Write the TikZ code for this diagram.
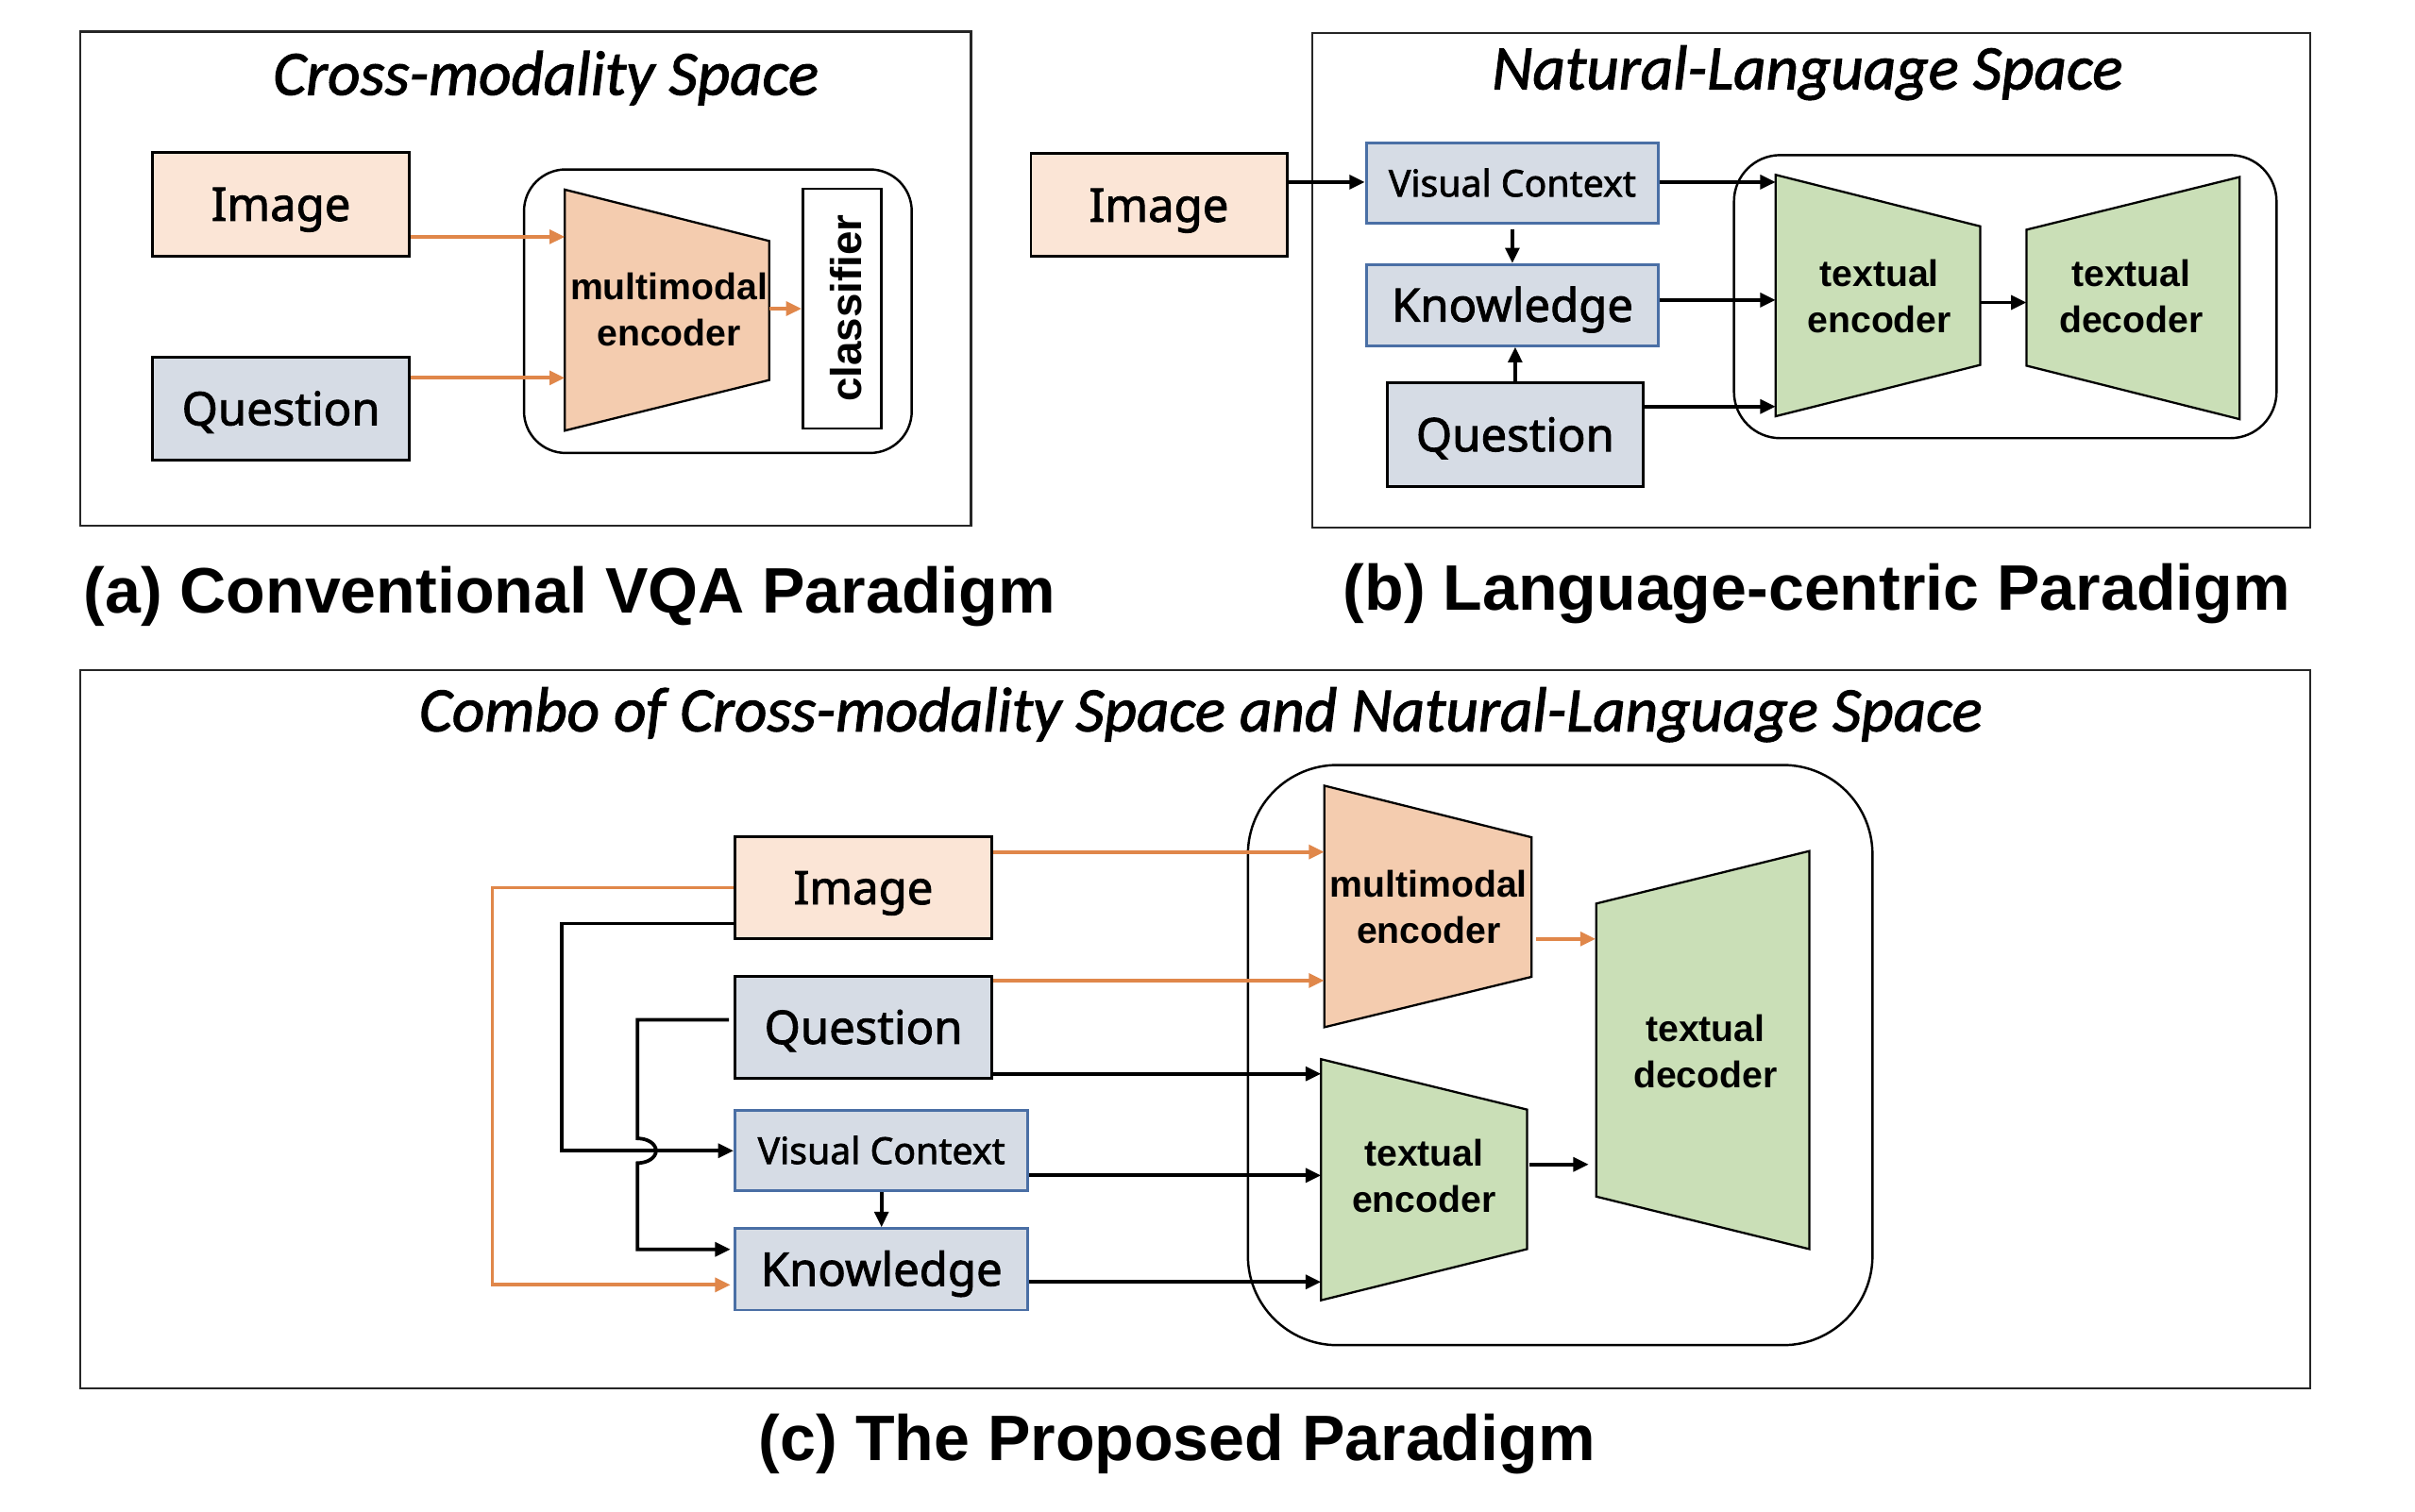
\documentclass[tikz,border=0pt]{standalone}
\usepackage{fontspec}
\setmainfont{Liberation Sans}
\newfontfamily\boxfont[FakeBold=1.8]{Noto Sans}
\newfontfamily\spacefont[FakeBold=1.6]{Carlito}
\usetikzlibrary{arrows.meta,calc}

\definecolor{peach}{HTML}{FBE5D6}
\definecolor{bgray}{HTML}{D6DCE5}
\definecolor{bblue}{HTML}{4A6FA5}
\definecolor{mmfill}{HTML}{F4CCAF}
\definecolor{gfill}{HTML}{CADFB7}
\definecolor{oline}{HTML}{E0874A}

\tikzset{
  panel/.style={draw=black!85, line width=1.4pt},
  roundbox/.style={draw=black, line width=1.5pt},
  inbox/.style={draw=black, line width=1.8pt, inner sep=0pt,
    font=\boxfont\fontsize{30}{36}\selectfont, text height=21.4pt, text depth=0pt},
  imgbox/.style={inbox, fill=peach},
  qbox/.style={inbox, fill=bgray},
  kbox/.style={inbox, fill=bgray, draw=bblue},
  vcbox/.style={kbox, font=\boxfont\fontsize{24}{29}\selectfont, text height=17.1pt},
  mmshape/.style={draw=black, line width=1.4pt, fill=mmfill},
  gshape/.style={draw=black, line width=1.4pt, fill=gfill},
  lbl/.style={font=\bfseries\fontsize{24}{30}\selectfont, align=center, inner sep=0pt},
  clsbox/.style={draw=black, line width=1.6pt, fill=white, inner sep=0pt},
  clslbl/.style={font=\bfseries\fontsize{28}{34}\selectfont, inner sep=0pt, rotate=90},
  spacetitle/.style={font=\spacefont\itshape\fontsize{41}{49}\selectfont, inner sep=0pt, anchor=base},
  caption/.style={font=\bfseries\fontsize{41.7}{50}\selectfont, inner sep=0pt, anchor=base west},
  barr/.style={draw=black, line width=2.3pt, -{Triangle[length=10pt,width=9pt]}},
  oarr/.style={barr, draw=oline},
}

\begin{document}
\begin{tikzpicture}[x=1pt, y=-1pt]
\fill[white] (0,0) rectangle (1566,980.7);
\useasboundingbox (0,0) rectangle (1566,980.7);

%%%%%%%%%%%%%%%% (a) %%%%%%%%%%%%%%%%
\draw[panel] (52,20.5) rectangle (629.7,341.1);
\node[spacetitle] (tA) at (354,61.5) {Cross-modality Space};
\node[imgbox, minimum width=166.4pt, minimum height=67.3pt] (imgA) at (182.2,132.5) {Image};
\node[qbox, minimum width=166.4pt, minimum height=66.6pt] (qA) at (182.2,265.1) {Question};
\draw[roundbox, rounded corners=27pt] (339.8,109.9) rectangle (591.2,293.8);
\draw[mmshape] (366.3,123) -- (498.8,156.3) -- (498.8,246.5) -- (366.3,279.3) -- cycle;
\node[lbl] (mmA) at (433.8,201) {multimodal\\encoder};
\node[clsbox, minimum width=51pt, minimum height=155.5pt] (clsA) at (546.1,200.2) {};
\node[clslbl] (clsT) at (548.9,200) {classifier};
\coordinate (encAin1) at (366.3,153.6);
\coordinate (encAin2) at (366.3,245.1);
\coordinate (encAout) at (498.8,200.2);
\draw[oarr] (imgA.east |- encAin1) -- (encAin1);
\draw[oarr] (qA.east |- encAin2) -- (encAin2);
\draw[oarr] (encAout) -- (clsA.west);
\node[caption] (capA) at (54,397.6) {(a) Conventional VQA Paradigm};

%%%%%%%%%%%%%%%% (b) %%%%%%%%%%%%%%%%
\draw[panel] (851,21.3) rectangle (1498.2,342.2);
\node[spacetitle] (tB) at (1172,57.9) {Natural-Language Space};
\node[imgbox, minimum width=166pt, minimum height=66.7pt] (imgB) at (751.5,133.1) {Image};
\node[vcbox, minimum width=189.6pt, minimum height=52pt] (vcB) at (980.7,118.9) {Visual Context};
\node[kbox, minimum width=189.6pt, minimum height=52.5pt] (kB) at (980.7,197.9) {Knowledge};
\node[qbox, minimum width=166.1pt, minimum height=67.5pt] (qB) at (982.5,282) {Question};
\draw[roundbox, rounded corners=30pt] (1124.4,100.6) rectangle (1476.2,284.2);
\draw[gshape] (1151.4,113.4) -- (1284.1,146.8) -- (1284.1,236.7) -- (1151.4,270) -- cycle;
\draw[gshape] (1314.1,149) -- (1452.3,114.8) -- (1452.3,271.9) -- (1314.1,237.2) -- cycle;
\node[lbl] (teB) at (1218.7,192) {textual\\encoder};
\node[lbl] (tdB) at (1382,192) {textual\\decoder};
\coordinate (encBin1) at (1151.4,118.1);
\coordinate (encBin2) at (1151.4,194.6);
\coordinate (encBin3) at (1151.4,263.7);
\coordinate (encBout) at (1284.1,196.2);
\coordinate (decBin) at (1314.1,196.2);
\draw[barr] (imgB.east |- encBin1) -- (vcB.west |- encBin1);
\draw[barr] (vcB.east |- encBin1) -- (encBin1);
\draw[barr] (kB.east |- encBin2) -- (encBin2);
\draw[barr] (qB.east |- encBin3) -- (encBin3);
\draw[barr] (encBout) -- (decBin);
\draw[barr, shorten <=3pt] (vcB.south) -- (kB.north);
\draw[barr] (qB.north) -- (qB.north |- kB.south);
\node[caption] (capB) at (870.9,395.5) {(b) Language-centric Paradigm};

%%%%%%%%%%%%%%%% (c) %%%%%%%%%%%%%%%%
\draw[panel] (52,434.5) rectangle (1498.2,900.5);
\node[spacetitle] (tC) at (778.7,474.3) {Combo of Cross-modality Space and Natural-Language Space};
\node[imgbox, minimum width=166.6pt, minimum height=66.6pt] (imgC) at (559.9,575.8) {Image};
\node[qbox, minimum width=166.6pt, minimum height=66.1pt] (qC) at (559.9,666.35) {Question};
\node[vcbox, minimum width=190pt, minimum height=52pt] (vcC) at (571.6,746.4) {Visual Context};
\node[kbox, minimum width=190pt, minimum height=52.8pt] (kC) at (571.6,823.3) {Knowledge};
\draw[roundbox, rounded corners=58pt] (809.2,496.2) rectangle (1214.2,872.5);
\draw[mmshape] (858.7,509.6) -- (993.1,543.1) -- (993.1,633.6) -- (858.7,666.3) -- cycle;
\draw[gshape] (856.6,687) -- (990.2,719.7) -- (990.2,810.2) -- (856.6,843.4) -- cycle;
\draw[gshape] (1035,586.1) -- (1173.3,552) -- (1173.3,810.2) -- (1035,776.1) -- cycle;
\node[lbl] (mmC) at (926.4,588.5) {multimodal\\encoder};
\node[lbl] (tdC) at (1105.9,682) {textual\\decoder};
\node[lbl] (teC) at (923.4,762.5) {textual\\encoder};

% inputs to encoders
\coordinate (mmCin1) at (858.7,552.6);
\coordinate (mmCin2) at (858.7,636);
\coordinate (teCin1) at (856.6,696.5);
\coordinate (teCin2) at (856.6,762.4);
\coordinate (teCin3) at (856.6,831.5);
\coordinate (mmCout) at (996,609);
\coordinate (tdCin1) at (1034.7,609);
\coordinate (teCout) at (991.6,755.3);
\coordinate (tdCin2) at (1030.2,755.3);
\draw[oarr] (imgC.east |- mmCin1) -- (mmCin1);
\draw[oarr] (qC.east |- mmCin2) -- (mmCin2);
\draw[barr] (qC.east |- teCin1) -- (teCin1);
\draw[barr] (vcC.east |- teCin2) -- (teCin2);
\draw[barr] (kC.east |- teCin3) -- (teCin3);
\draw[oarr] (mmCout) -- (tdCin1);
\draw[barr] (teCout) -- (tdCin2);

% left-side routing
\coordinate (o1) at (319.2,575.7);
\coordinate (o2) at (319.2,833.4);
\coordinate (b1) at (364.2,599);
\coordinate (b2) at (364.2,746.4);
\coordinate (q1) at (413.4,661.4);
\coordinate (q2) at (413.4,810.4);
\draw[oarr, shorten >=2pt] (imgC.west |- o1) -- (o1) -- (o2) -- (kC.west |- o2);
\draw[barr] (imgC.west |- b1) -- (b1) -- (b2) -- (vcC.west);
\draw[barr, shorten >=2pt] ($(qC.west |- q1)+(-3,0)$) -- (q1) -- ($(q1 |- b2)+(0,-8)$)
   arc[start angle=90, end angle=-90, x radius=12pt, y radius=8pt] -- (q2) -- (kC.west |- q2);
\draw[barr] (vcC.south) -- (kC.north);

\node[caption] (capC) at (492,947.3) {(c) The Proposed Paradigm};
\end{tikzpicture}
\end{document}
